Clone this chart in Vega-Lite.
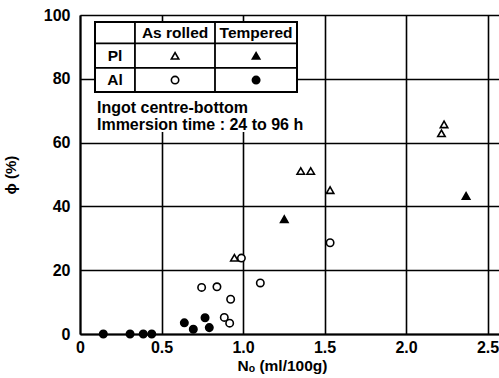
{
  "$schema": "https://vega.github.io/schema/vega-lite/v6.json",
  "width": 419,
  "height": 319,
  "autosize": {"type": "none"},
  "padding": {"left": 80, "top": 15, "right": 0, "bottom": 44},
  "background": "white",
  "config": {"view": {"stroke": null}, "font": "Liberation Sans"},
  "layer": [
    {
      "data": {"values": [{}]},
      "mark": {"type": "rect", "fill": "white"},
      "encoding": {
        "x": {"datum": 0.092, "type": "quantitative"},
        "x2": {"datum": 1.331},
        "y": {"datum": 97.8, "type": "quantitative"},
        "y2": {"datum": 63.3}
      }
    },
    {
      "data": {"values": [
        {"N": 0.143, "phi": 0, "Element": "Al", "Condition": "Tempered"},
        {"N": 0.307, "phi": 0, "Element": "Al", "Condition": "Tempered"},
        {"N": 0.388, "phi": 0, "Element": "Al", "Condition": "Tempered"},
        {"N": 0.44, "phi": 0, "Element": "Al", "Condition": "Tempered"},
        {"N": 0.64, "phi": 3.5, "Element": "Al", "Condition": "Tempered"},
        {"N": 0.695, "phi": 1.5, "Element": "Al", "Condition": "Tempered"},
        {"N": 0.767, "phi": 5.1, "Element": "Al", "Condition": "Tempered"},
        {"N": 0.793, "phi": 2.0, "Element": "Al", "Condition": "Tempered"},
        {"N": 0.746, "phi": 14.6, "Element": "Al", "Condition": "As rolled"},
        {"N": 0.84, "phi": 14.8, "Element": "Al", "Condition": "As rolled"},
        {"N": 0.924, "phi": 10.9, "Element": "Al", "Condition": "As rolled"},
        {"N": 0.885, "phi": 5.2, "Element": "Al", "Condition": "As rolled"},
        {"N": 0.918, "phi": 3.4, "Element": "Al", "Condition": "As rolled"},
        {"N": 0.99, "phi": 23.8, "Element": "Al", "Condition": "As rolled"},
        {"N": 1.106, "phi": 16.0, "Element": "Al", "Condition": "As rolled"},
        {"N": 1.534, "phi": 28.6, "Element": "Al", "Condition": "As rolled"},
        {"N": 0.947, "phi": 23.9, "Element": "Pl", "Condition": "As rolled"},
        {"N": 1.354, "phi": 51.1, "Element": "Pl", "Condition": "As rolled"},
        {"N": 1.415, "phi": 51.1, "Element": "Pl", "Condition": "As rolled"},
        {"N": 1.534, "phi": 45.1, "Element": "Pl", "Condition": "As rolled"},
        {"N": 2.233, "phi": 65.7, "Element": "Pl", "Condition": "As rolled"},
        {"N": 2.217, "phi": 62.9, "Element": "Pl", "Condition": "As rolled"},
        {"N": 1.253, "phi": 36.0, "Element": "Pl", "Condition": "Tempered"},
        {"N": 2.368, "phi": 43.3, "Element": "Pl", "Condition": "Tempered"}
      ]},
      "mark": {"type": "point", "filled": true, "stroke": "black", "strokeWidth": 1.6, "size": 55, "opacity": 1},
      "encoding": {
        "x": {
          "field": "N", "type": "quantitative",
          "scale": {"domain": [0, 2.57], "nice": false, "zero": true},
          "axis": {
            "values": [0, 0.5, 1, 1.5, 2, 2.5],
            "labelExpr": "datum.value == 0 ? '0' : format(datum.value, '.1f')",
            "grid": true, "gridColor": "black", "gridWidth": 1.6, "gridOpacity": 1,
            "domainColor": "black", "domainWidth": 2, "ticks": false,
            "labelFont": "Liberation Sans", "labelFontSize": 16, "labelFontWeight": "bold", "labelColor": "black", "labelPadding": 5,
            "labelFlush": false,
            "title": "Nₒ (ml/100g)", "titleFont": "Liberation Sans", "titleFontSize": 15.5, "titleFontWeight": "bold", "titleColor": "black", "titlePadding": 3, "titleX": 202
          }
        },
        "y": {
          "field": "phi", "type": "quantitative",
          "scale": {"domain": [0, 100], "nice": false},
          "axis": {
            "values": [0, 20, 40, 60, 80, 100],
            "grid": true, "gridColor": "black", "gridWidth": 1.6, "gridOpacity": 1,
            "domainColor": "black", "domainWidth": 2, "ticks": false,
            "labelFont": "Liberation Sans", "labelFontSize": 16, "labelFontWeight": "bold", "labelColor": "black", "labelPadding": 10,
            "labelFlush": false,
            "title": "ϕ (%)", "titleFont": "Liberation Sans", "titleFontSize": 15, "titleFontWeight": "bold", "titleColor": "black", "titleX": -62
          }
        },
        "shape": {"field": "Element", "type": "nominal", "scale": {"domain": ["Pl", "Al"], "range": ["triangle-up", "circle"]}, "legend": null},
        "fill": {"field": "Condition", "type": "nominal", "scale": {"domain": ["As rolled", "Tempered"], "range": ["white", "black"]}, "legend": null}
      }
    },
    {
      "data": {"values": [{}]},
      "mark": {"type": "rect", "fill": null, "stroke": "black", "strokeWidth": 2},
      "encoding": {
        "x": {"datum": 0.092, "type": "quantitative"},
        "x2": {"datum": 1.331},
        "y": {"datum": 97.8, "type": "quantitative"},
        "y2": {"datum": 75.9}
      }
    },
    {
      "data": {"values": [{}]},
      "mark": {"type": "rule", "stroke": "black", "strokeWidth": 1.8},
      "encoding": {
        "x": {"datum": 0.337, "type": "quantitative"},
        "y": {"datum": 97.8, "type": "quantitative"},
        "y2": {"datum": 75.9}
      }
    },
    {
      "data": {"values": [{}]},
      "mark": {"type": "rule", "stroke": "black", "strokeWidth": 1.8},
      "encoding": {
        "x": {"datum": 0.828, "type": "quantitative"},
        "y": {"datum": 97.8, "type": "quantitative"},
        "y2": {"datum": 75.9}
      }
    },
    {
      "data": {"values": [{}]},
      "mark": {"type": "rule", "stroke": "black", "strokeWidth": 1.8},
      "encoding": {
        "x": {"datum": 0.092, "type": "quantitative"},
        "x2": {"datum": 1.331},
        "y": {"datum": 91.1, "type": "quantitative"}
      }
    },
    {
      "data": {"values": [{}]},
      "mark": {"type": "rule", "stroke": "black", "strokeWidth": 1.8},
      "encoding": {
        "x": {"datum": 0.092, "type": "quantitative"},
        "x2": {"datum": 1.331},
        "y": {"datum": 83.4, "type": "quantitative"}
      }
    },
    {
      "data": {"values": [{}]},
      "mark": {"type": "text", "font": "Liberation Sans", "fontSize": 15.5, "fontWeight": "bold", "color": "black", "align": "center", "baseline": "middle", "text": "As rolled"},
      "encoding": {"x": {"datum": 0.583, "type": "quantitative"}, "y": {"datum": 94.4, "type": "quantitative"}}
    },
    {
      "data": {"values": [{}]},
      "mark": {"type": "text", "font": "Liberation Sans", "fontSize": 15.5, "fontWeight": "bold", "color": "black", "align": "center", "baseline": "middle", "text": "Tempered"},
      "encoding": {"x": {"datum": 1.08, "type": "quantitative"}, "y": {"datum": 94.4, "type": "quantitative"}}
    },
    {
      "data": {"values": [{}]},
      "mark": {"type": "text", "font": "Liberation Sans", "fontSize": 15.5, "fontWeight": "bold", "color": "black", "align": "center", "baseline": "middle", "text": "Pl"},
      "encoding": {"x": {"datum": 0.215, "type": "quantitative"}, "y": {"datum": 87.2, "type": "quantitative"}}
    },
    {
      "data": {"values": [{}]},
      "mark": {"type": "text", "font": "Liberation Sans", "fontSize": 15.5, "fontWeight": "bold", "color": "black", "align": "center", "baseline": "middle", "text": "Al"},
      "encoding": {"x": {"datum": 0.215, "type": "quantitative"}, "y": {"datum": 79.6, "type": "quantitative"}}
    },
    {
      "data": {"values": [{}]},
      "mark": {"type": "point", "shape": "triangle-up", "filled": true, "fill": "white", "stroke": "black", "strokeWidth": 1.6, "size": 55, "opacity": 1},
      "encoding": {"x": {"datum": 0.583, "type": "quantitative"}, "y": {"datum": 87.2, "type": "quantitative"}}
    },
    {
      "data": {"values": [{}]},
      "mark": {"type": "point", "shape": "triangle-up", "filled": true, "fill": "black", "stroke": "black", "strokeWidth": 1.6, "size": 55, "opacity": 1},
      "encoding": {"x": {"datum": 1.08, "type": "quantitative"}, "y": {"datum": 87.2, "type": "quantitative"}}
    },
    {
      "data": {"values": [{}]},
      "mark": {"type": "point", "shape": "circle", "filled": true, "fill": "white", "stroke": "black", "strokeWidth": 1.6, "size": 55, "opacity": 1},
      "encoding": {"x": {"datum": 0.583, "type": "quantitative"}, "y": {"datum": 79.6, "type": "quantitative"}}
    },
    {
      "data": {"values": [{}]},
      "mark": {"type": "point", "shape": "circle", "filled": true, "fill": "black", "stroke": "black", "strokeWidth": 1.6, "size": 55, "opacity": 1},
      "encoding": {"x": {"datum": 1.08, "type": "quantitative"}, "y": {"datum": 79.6, "type": "quantitative"}}
    },
    {
      "data": {"values": [{}]},
      "mark": {"type": "text", "font": "Liberation Sans", "fontSize": 16, "fontWeight": "bold", "color": "black", "align": "left", "baseline": "middle", "text": "Ingot  centre-bottom"},
      "encoding": {"x": {"datum": 0.104, "type": "quantitative"}, "y": {"datum": 70.8, "type": "quantitative"}}
    },
    {
      "data": {"values": [{}]},
      "mark": {"type": "text", "font": "Liberation Sans", "fontSize": 16, "fontWeight": "bold", "color": "black", "align": "left", "baseline": "middle", "text": "Immersion time : 24 to 96 h"},
      "encoding": {"x": {"datum": 0.104, "type": "quantitative"}, "y": {"datum": 65.4, "type": "quantitative"}}
    }
  ]
}
